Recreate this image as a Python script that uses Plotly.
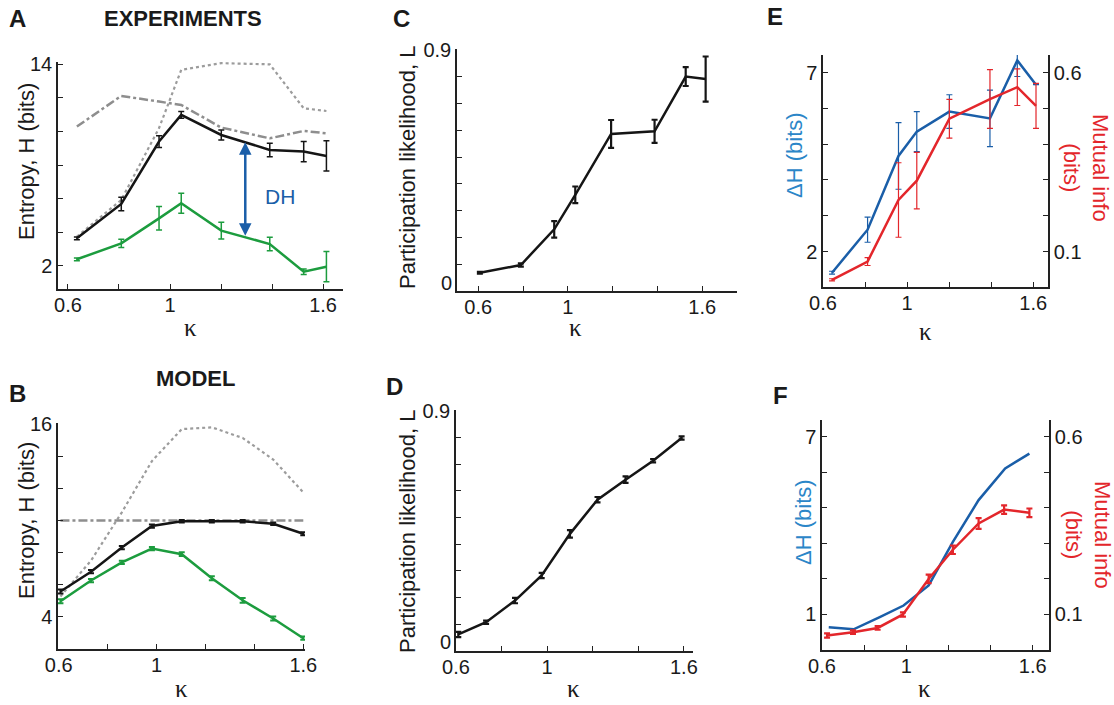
import numpy as np
import plotly.graph_objects as go

# ---------------- data ----------------
# Panel A (experiments)
kA = [0.635, 0.809, 0.957, 1.044, 1.201, 1.391, 1.524, 1.613]
A_black = [3.63, 5.68, 9.40, 10.99, 9.79, 8.90, 8.80, 8.54]
A_black_err = [0.08, 0.40, 0.35, 0.20, 0.30, 0.40, 0.60, 0.90]
A_green = [2.38, 3.33, 4.82, 5.72, 4.09, 3.29, 1.64, 1.94]
A_green_err = [0.08, 0.24, 0.70, 0.60, 0.50, 0.40, 0.16, 0.90]
A_dotted = [3.73, 5.92, 10.2, 13.67, 14.07, 14.0, 11.38, 11.22]
A_dashdot = [10.29, 12.12, 11.78, 11.58, 10.23, 9.59, 10.03, 9.89]
A_dh_kappa = 1.295

# Panel B (model)
kB = [0.607, 0.732, 0.858, 0.981, 1.103, 1.226, 1.352, 1.477, 1.600]
B_black = [5.58, 6.81, 8.31, 9.65, 9.95, 9.95, 9.95, 9.79, 9.17]
B_black_err = [0.12, 0.10, 0.10, 0.10, 0.08, 0.08, 0.08, 0.08, 0.10]
B_green = [4.97, 6.26, 7.39, 8.25, 7.90, 6.40, 5.03, 3.90, 2.67]
B_green_err = [0.12, 0.10, 0.10, 0.10, 0.12, 0.12, 0.15, 0.12, 0.10]
B_dotted = [5.27, 7.50, 10.50, 13.69, 15.68, 15.79, 15.13, 13.79, 11.74]
B_dashdot = [10.0, 10.0, 10.0, 10.0, 10.0, 10.0, 10.0, 10.0, 10.0]

# Panel C (experiments, participation likelihood)
kC = [0.607, 0.790, 0.939, 1.033, 1.193, 1.387, 1.526, 1.615]
C_L = [0.068, 0.097, 0.230, 0.359, 0.586, 0.596, 0.800, 0.791]
C_err = [0.003, 0.006, 0.031, 0.031, 0.052, 0.043, 0.035, 0.084]

# Panel D (model, participation likelihood)
kD = [0.610, 0.732, 0.859, 0.976, 1.100, 1.221, 1.344, 1.465, 1.590]
D_L = [0.062, 0.108, 0.189, 0.283, 0.439, 0.567, 0.642, 0.713, 0.798]
D_err = [0.010, 0.006, 0.010, 0.010, 0.014, 0.010, 0.012, 0.006, 0.006]

# Panel E (experiments, delta H and mutual info)
kE = [0.643, 0.812, 0.959, 1.046, 1.201, 1.394, 1.524, 1.613]
E_dH = [1.41, 2.61, 4.67, 5.35, 5.91, 5.72, 7.34, 6.66]
E_dH_err = [0.04, 0.35, 0.93, 0.56, 0.47, 0.79, 0.45, 0.0]
E_MI = [0.021, 0.072, 0.244, 0.298, 0.471, 0.526, 0.559, 0.507]
E_MI_err = [0.003, 0.011, 0.104, 0.079, 0.054, 0.082, 0.051, 0.063]

# Panel F (model, delta H and mutual info)
kF_MI = [0.624, 0.747, 0.864, 0.984, 1.106, 1.221, 1.343, 1.464, 1.584]
F_MI = [0.041, 0.050, 0.062, 0.100, 0.200, 0.282, 0.356, 0.395, 0.386]
F_MI_err = [0.006, 0.005, 0.005, 0.006, 0.012, 0.012, 0.015, 0.012, 0.012]
kF_dH = [0.632, 0.750, 0.874, 0.987, 1.106, 1.221, 1.343, 1.469, 1.584]
F_dH = [0.57, 0.50, 0.91, 1.30, 1.98, 3.45, 4.86, 5.93, 6.43]

kappa_ticks = [0.6, 0.8, 1.0, 1.2, 1.4, 1.6]
kappa_ticktext = ['0.6', '', '1', '', '', '1.6']
L_ticks = [0, 0.1, 0.2, 0.3, 0.4, 0.5, 0.6, 0.7, 0.8, 0.9]
L_ticktext = ['', '', '', '', '', '', '', '', '', '0.9']

# ---------------- styling ----------------
W, H = 1114, 705
FONT = 'Liberation Sans, Arial, sans-serif'
BLACK = '#151515'
GREEN = '#1c9c3e'
GRAY_DOT = '#9c9c9c'
GRAY_DD = '#8e8e8e'
BLUE = '#1a5ea8'
BLUE_TXT = '#2b86c8'
RED = '#e3262b'


def px(x):
    return x / W


def py(y):
    return 1 - y / H


def dom_x(a, b):
    return [px(a), px(b)]


def dom_y(top, bottom):
    return [py(bottom), py(top)]


axis_common = dict(showline=True, linecolor='#222222', linewidth=1.5,
                   ticks='inside', ticklen=5, tickwidth=1.2, tickcolor='#222222',
                   showgrid=False, zeroline=False, automargin=False,
                   tickfont=dict(family=FONT, size=20, color='#1a1a1a'),
                   fixedrange=True)


def xaxis(domain, rng, anchor):
    d = dict(axis_common)
    d.update(domain=domain, range=rng, anchor=anchor,
             tickvals=kappa_ticks, ticktext=kappa_ticktext,
             ticklabelstandoff=-3)
    return d


def yaxis(domain, rng, anchor, vals, texts, side='left', overlaying=None):
    d = dict(axis_common)
    d.update(domain=domain, range=rng, anchor=anchor, tickvals=vals,
             ticktext=texts, side=side)
    if overlaying:
        d['overlaying'] = overlaying
    return d


fig = go.Figure()


def line(x, y, color, width=2.5, dash='solid', err=None, xa='x', ya='y',
         errw=1.5, capw=3):
    kw = dict(x=x, y=y, mode='lines', xaxis=xa, yaxis=ya,
              line=dict(color=color, width=width, dash=dash),
              hoverinfo='skip', showlegend=False)
    if err is not None:
        kw['error_y'] = dict(type='data', array=err, visible=True,
                             color=color, thickness=errw, width=capw)
    fig.add_trace(go.Scatter(**kw))


# Panel A
line(kA, A_dotted, GRAY_DOT, 2.2, 'dot', xa='x', ya='y')
line(kA, A_dashdot, GRAY_DD, 2.5, 'dashdot', xa='x', ya='y')
line(kA, A_black, BLACK, 2.5, err=A_black_err, xa='x', ya='y')
line(kA, A_green, GREEN, 2.5, err=A_green_err, xa='x', ya='y')

# Panel B
line(kB, B_dotted, GRAY_DOT, 2.2, 'dot', xa='x2', ya='y2')
line(kB, B_dashdot, GRAY_DD, 2.5, 'dashdot', xa='x2', ya='y2')
line(kB, B_black, BLACK, 2.5, err=B_black_err, xa='x2', ya='y2', errw=2)
line(kB, B_green, GREEN, 2.5, err=B_green_err, xa='x2', ya='y2', errw=2)

# Panel C
line(kC, C_L, BLACK, 2.5, err=C_err, xa='x3', ya='y3', errw=2.2, capw=3)

# Panel D
line(kD, D_L, BLACK, 2.5, err=D_err, xa='x4', ya='y4', errw=2.2, capw=3)

# Panel E
line(kE, E_MI, RED, 2.5, err=E_MI_err, xa='x5', ya='y6', errw=1.2, capw=3)
line(kE, E_dH, BLUE, 2.5, err=E_dH_err, xa='x5', ya='y5', errw=1.2, capw=3)

# Panel F
line(kF_dH, F_dH, BLUE, 2.5, xa='x6', ya='y7')
line(kF_MI, F_MI, RED, 2.5, err=F_MI_err, xa='x6', ya='y8', errw=2.2, capw=3)

# ---------------- axes ----------------
F_left_ticks = [1, 2.2, 3.4, 4.6, 5.8, 7]
F_right_range = [0.0, 0.647]
F_left_range = [1 + (F_right_range[0] - 0.1) * 12, 1 + (F_right_range[1] - 0.1) * 12]

fig.update_layout(
    template='none',
    width=W, height=H, margin=dict(l=0, r=0, t=0, b=0, autoexpand=False),
    paper_bgcolor='white', plot_bgcolor='white', showlegend=False,
    xaxis=xaxis(dom_x(58, 343), [0.561, 1.678], 'y'),
    yaxis=yaxis(dom_y(62, 289), [0.61, 14.14], 'x',
                [2, 4, 6, 8, 10, 12, 14], ['2', '', '', '', '', '', '14']),
    xaxis2=xaxis(dom_x(58, 305), [0.597, 1.607], 'y2'),
    yaxis2=yaxis(dom_y(423, 649), [2.0, 16.06], 'x2',
                 [4, 6, 8, 10, 12, 14, 16], ['4', '', '', '', '', '', '16']),
    xaxis3=xaxis(dom_x(457, 737), [0.505, 1.755], 'y3'),
    yaxis3=yaxis(dom_y(49, 291), [0.0, 0.903], 'x3', L_ticks, L_ticktext),
    xaxis4=xaxis(dom_x(456, 693), [0.6, 1.64], 'y4'),
    yaxis4=yaxis(dom_y(410, 651), [0.0, 0.903], 'x4', L_ticks, L_ticktext),
    xaxis5=xaxis(dom_x(823, 1048), [0.6, 1.67], 'y5'),
    yaxis5=yaxis(dom_y(55, 287), [1.01, 7.49], 'x5',
                 [2, 3, 4, 5, 6, 7], ['2', '', '', '', '', '7']),
    yaxis6=yaxis(dom_y(55, 287), [0.001, 0.649], 'x5',
                 [0.1, 0.2, 0.3, 0.4, 0.5, 0.6], ['0.1', '', '', '', '', '0.6'],
                 side='right', overlaying='y5'),
    xaxis6=xaxis(dom_x(822, 1049), [0.6, 1.677], 'y7'),
    yaxis7=yaxis(dom_y(420, 650), F_left_range, 'x6',
                 F_left_ticks, ['1', '', '', '', '', '7']),
    yaxis8=yaxis(dom_y(420, 650), F_right_range, 'x6',
                 [0.1, 0.2, 0.3, 0.4, 0.5, 0.6], ['0.1', '', '', '', '', '0.6'],
                 side='right', overlaying='y7'),
)

# ---------------- annotations ----------------
ann = []


def text(x, y, s, size=21, color='#1a1a1a', angle=0, bold=False, family=FONT,
         xanchor='center'):
    if bold:
        s = '<b>' + s + '</b>'
    ann.append(dict(x=px(x), y=py(y), xref='paper', yref='paper', text=s,
                    showarrow=False, textangle=angle, xanchor=xanchor,
                    yanchor='middle', font=dict(family=family, size=size, color=color)))


# panel letters and titles
text(17, 18, 'A', 24, bold=True)
text(183, 18, 'EXPERIMENTS', 22, bold=True)
text(17, 393, 'B', 24, bold=True)
text(195, 378, 'MODEL', 22, bold=True)
text(401, 18, 'C', 24, bold=True)
text(394, 386, 'D', 24, bold=True)
text(775, 16, 'E', 24, bold=True)
text(780, 395, 'F', 24, bold=True)

# raised "0" tick labels of the likelihood axes (as in the reference)
text(454, 283, '0', 20, xanchor='right')
text(453, 642, '0', 20, xanchor='right')

# y titles
text(26, 162, 'Entropy, H (bits)', 22, angle=-90)
text(26, 521, 'Entropy, H (bits)', 22, angle=-90)
text(407, 168, 'Participation likelihood, L', 22, angle=-90)
text(407, 532, 'Participation likelihood, L', 22, angle=-90)
text(794, 155, '\u0394H (bits)', 22, color=BLUE_TXT, angle=-90)
text(803, 522, '\u0394H (bits)', 22, color=BLUE_TXT, angle=-90)
text(1086, 168, 'Mutual info<br>(bits)', 22, color=RED, angle=90)
text(1088, 535, 'Mutual info<br>(bits)', 22, color=RED, angle=90)

# x titles (kappa)
SERIF = 'Liberation Serif, Times New Roman, serif'
text(190, 327, '\u03ba', 25, family=SERIF)
text(181, 688, '\u03ba', 25, family=SERIF)
text(575, 327, '\u03ba', 25, family=SERIF)
text(573, 688, '\u03ba', 25, family=SERIF)
text(925, 331, '\u03ba', 25, family=SERIF)
text(924, 688, '\u03ba', 25, family=SERIF)

# DH arrow in panel A between black and green curves
dh_top = float(np.interp(A_dh_kappa, kA, A_black))
dh_bot = float(np.interp(A_dh_kappa, kA, A_green))
ann.append(dict(x=A_dh_kappa, y=dh_top, ax=A_dh_kappa, ay=dh_bot,
                xref='x', yref='y', axref='x', ayref='y', text='',
                showarrow=True, arrowhead=2, startarrowhead=2,
                arrowside='end+start', arrowwidth=2.5, arrowsize=1,
                startarrowsize=1, arrowcolor=BLUE))
ann.append(dict(x=1.43, y=6.1, xref='x', yref='y', text='DH', showarrow=False,
                font=dict(family=FONT, size=21, color=BLUE)))

fig.update_layout(annotations=ann)

fig.write_html('out.html')
